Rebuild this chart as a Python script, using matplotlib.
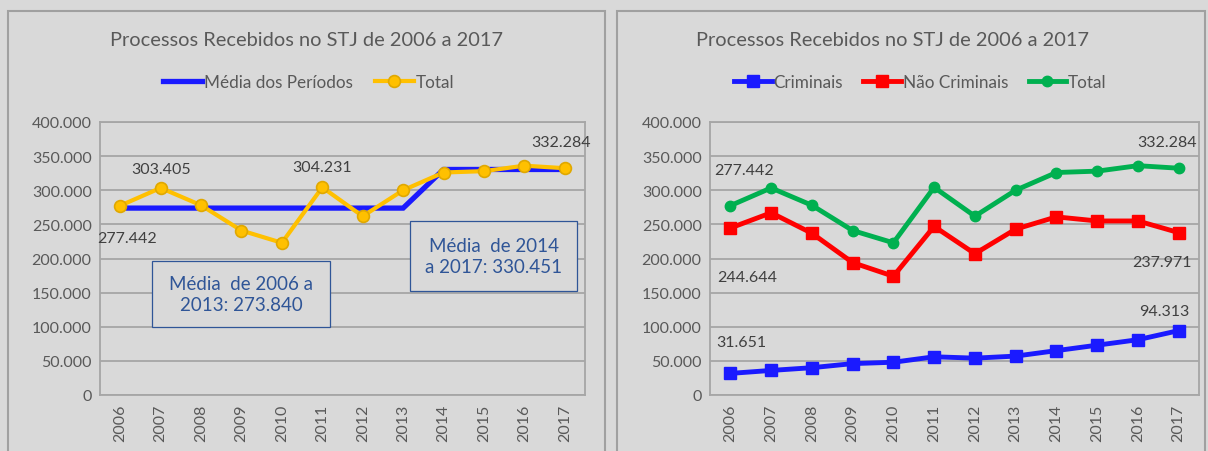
"""
Processos recebidos no STJ, 2006 a 2017 - two panels
"""

import numpy as np
import matplotlib.pyplot as plt
import matplotlib.ticker as mticker
from matplotlib.patches import Rectangle

plt.rcParams['font.family'] = ['Lato', 'DejaVu Sans']

# data
anos = ['2006', '2007', '2008', '2009', '2010', '2011',
        '2012', '2013', '2014', '2015', '2016', '2017']
total = [277442, 303405, 278000, 241000, 223000, 304231,
         262000, 300000, 326000, 328000, 336000, 332284]
media_periodos = [273840] * 8 + [330451] * 4
criminais = [31651, 36000, 40000, 46000, 48000, 56000,
             54000, 57000, 65000, 73000, 81000, 94313]
nao_criminais = [244644, 267000, 237000, 194000, 174000, 247000,
                 207000, 243000, 261000, 255000, 255000, 237971]
titulo = 'Processos Recebidos no STJ de 2006 a 2017'

bg = '#d9d9d9'
grid_c = '#a6a6a6'
txt_c = '#595959'
lab_c = '#404040'
box_c = '#2f5597'


def fmt(v):
    return f'{int(v):,}'.replace(',', '.')


def style_ax(ax):
    ax.set_facecolor(bg)
    ax.set_xlim(-0.5, 11.5)
    ax.set_ylim(0, 400000)
    ax.set_yticks(np.arange(0, 400001, 50000))
    ax.yaxis.set_major_formatter(mticker.FuncFormatter(lambda v, p: fmt(v)))
    ax.set_xticks(range(len(anos)))
    ax.set_xticklabels(anos, rotation=90)
    ax.grid(axis='y', color=grid_c, lw=1.3)
    ax.set_axisbelow(True)
    for s in ax.spines.values():
        s.set_color(grid_c)
        s.set_linewidth(1.3)
    ax.tick_params(length=0, colors=txt_c, labelsize=11.5, pad=6)


fig = plt.figure(figsize=(12.08, 4.52), dpi=100)
fig.patch.set_facecolor(bg)

# panel frames
W, H = 1208, 452
for x0, x1 in [(8, 605), (617, 1205)]:
    fig.patches.append(Rectangle((x0 / W, -0.1), (x1 - x0) / W, (H - 12) / H + 0.1,
                                 transform=fig.transFigure, fill=False,
                                 ec='#a0a0a0', lw=1.5))

# ---------- left panel ----------
ax1 = fig.add_axes([100 / W, 56 / H, 485 / W, 273 / H])
style_ax(ax1)
x = np.arange(len(anos))
ax1.plot(x, media_periodos, color='#1a1aff', lw=3.8, label='Média dos Períodos',
         solid_joinstyle='miter')
ax1.plot(x, total, color='#ffc000', lw=3.0, marker='o', ms=8.5,
         mfc='#ffc000', mec='#e0a800', mew=1.2, label='Total')

lab = dict(textcoords='offset points', ha='center', color=lab_c, fontsize=11.5)
ax1.annotate(fmt(total[0]), (x[0], total[0]), xytext=(5, -26), **lab)
ax1.annotate(fmt(total[1]), (x[1], total[1]), xytext=(0, 11), **lab)
ax1.annotate(fmt(total[5]), (x[5], total[5]), xytext=(0, 12), **lab)
ax1.annotate(fmt(total[11]), (x[11], total[11]), xytext=(-3, 16), **lab)

# boxes with the period means
for (bx0, bx1, by0, by1), txt in [
        ((0.79, 5.2, 99600, 196300), 'Média  de 2006 a\n2013: ' + fmt(media_periodos[0])),
        ((7.18, 11.31, 152400, 254900), 'Média  de 2014\na 2017: ' + fmt(media_periodos[-1]))]:
    ax1.add_patch(Rectangle((bx0, by0), bx1 - bx0, by1 - by0, fc=bg, ec=box_c,
                            lw=0.9, zorder=4))
    ax1.text((bx0 + bx1) / 2, (by0 + by1) / 2, txt, ha='center', va='center',
             color=box_c, fontsize=13.5, linespacing=1.35, zorder=5)

fig.text(307 / W, 1 - 40 / H, titulo, ha='center', va='center',
         color=txt_c, fontsize=14.4)
ax1.legend(loc='center', bbox_to_anchor=(0.43, (H - 83 - 56) / 273), ncol=2,
           frameon=False, fontsize=12.3, labelcolor=txt_c, handlelength=2.3,
           handletextpad=0.1, columnspacing=1.3)

# ---------- right panel ----------
ax2 = fig.add_axes([710 / W, 56 / H, 489 / W, 273 / H])
style_ax(ax2)
ax2.plot(x, criminais, color='#1a1aff', lw=3.5, marker='s', ms=8, label='Criminais')
ax2.plot(x, nao_criminais, color='#ff0000', lw=3.5, marker='s', ms=8, label='Não Criminais')
ax2.plot(x, total, color='#00b050', lw=3.5, marker='o', ms=7.5, label='Total')

ax2.annotate(fmt(total[0]), (x[0], total[0]), xytext=(10, 23), **lab)
ax2.annotate(fmt(nao_criminais[0]), (x[0], nao_criminais[0]), xytext=(12, -38), **lab)
ax2.annotate(fmt(nao_criminais[11]), (x[11], nao_criminais[11]), xytext=(-12, -24), **lab)
ax2.annotate(fmt(total[11]), (x[11], total[11]), xytext=(-8, 16), **lab)
ax2.annotate(fmt(criminais[11]), (x[11], criminais[11]), xytext=(-10, 11), **lab)
ax2.annotate(fmt(criminais[0]), (x[0], criminais[0]), xytext=(8, 20), **lab)

fig.text(892 / W, 1 - 40 / H, titulo, ha='center', va='center',
         color=txt_c, fontsize=14.4)
ax2.legend(loc='center', bbox_to_anchor=(0.43, (H - 83 - 56) / 273), ncol=3,
           frameon=False, fontsize=12.3, labelcolor=txt_c, handlelength=2.2,
           handletextpad=0.1, columnspacing=1.2)

fig.savefig('out.png', dpi=100, facecolor=bg)
